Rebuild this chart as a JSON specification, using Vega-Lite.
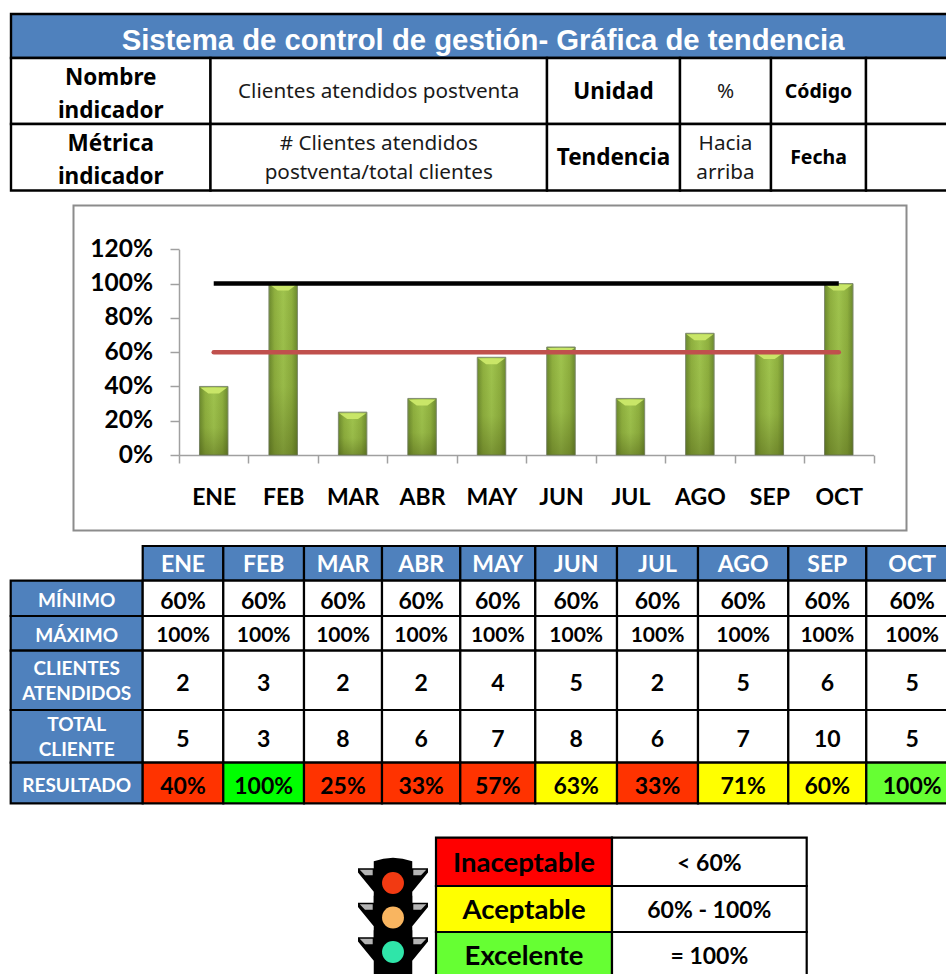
{
"$schema":"https://vega.github.io/schema/vega-lite/v6.json",
"padding":0,
"spacing":0,
"bounds":"flush",
"resolve":{"scale":{"color":"independent"}},
"config":{"view":{"stroke":null},"axis":{"grid":false,"title":null}},
"datasets":{
"cabecera":[
{"col":0,"fin":6,"row":0,"text":"","tipo":"azul"},
{"col":0,"fin":1,"row":1,"text":"Nombre\nindicador","tipo":"blanco"},
{"col":1,"fin":2,"row":1,"text":"Clientes atendidos postventa","tipo":"blanco"},
{"col":2,"fin":3,"row":1,"text":"Unidad","tipo":"blanco"},
{"col":3,"fin":4,"row":1,"text":"%","tipo":"blanco"},
{"col":4,"fin":5,"row":1,"text":"Código","tipo":"blanco"},
{"col":5,"fin":6,"row":1,"text":"","tipo":"blanco"},
{"col":0,"fin":1,"row":2,"text":"Métrica\nindicador","tipo":"blanco"},
{"col":1,"fin":2,"row":2,"text":"# Clientes atendidos\npostventa/total clientes","tipo":"blanco"},
{"col":2,"fin":3,"row":2,"text":"Tendencia","tipo":"blanco"},
{"col":3,"fin":4,"row":2,"text":"Hacia\narriba","tipo":"blanco"},
{"col":4,"fin":5,"row":2,"text":"Fecha","tipo":"blanco"},
{"col":5,"fin":6,"row":2,"text":"","tipo":"blanco"}
],
"meses":[
{"mes":"ENE","resultado":0.40,"minimo":0.6,"maximo":1},
{"mes":"FEB","resultado":1,"minimo":0.6,"maximo":1},
{"mes":"MAR","resultado":0.25,"minimo":0.6,"maximo":1},
{"mes":"ABR","resultado":0.33,"minimo":0.6,"maximo":1},
{"mes":"MAY","resultado":0.57,"minimo":0.6,"maximo":1},
{"mes":"JUN","resultado":0.63,"minimo":0.6,"maximo":1},
{"mes":"JUL","resultado":0.33,"minimo":0.6,"maximo":1},
{"mes":"AGO","resultado":0.71,"minimo":0.6,"maximo":1},
{"mes":"SEP","resultado":0.60,"minimo":0.6,"maximo":1},
{"mes":"OCT","resultado":1,"minimo":0.6,"maximo":1}
],
"tabla":[
{"col":1,"row":0,"text":"ENE","tipo":"azul"},{"col":2,"row":0,"text":"FEB","tipo":"azul"},{"col":3,"row":0,"text":"MAR","tipo":"azul"},{"col":4,"row":0,"text":"ABR","tipo":"azul"},{"col":5,"row":0,"text":"MAY","tipo":"azul"},{"col":6,"row":0,"text":"JUN","tipo":"azul"},{"col":7,"row":0,"text":"JUL","tipo":"azul"},{"col":8,"row":0,"text":"AGO","tipo":"azul"},{"col":9,"row":0,"text":"SEP","tipo":"azul"},{"col":10,"row":0,"text":"OCT","tipo":"azul"},
{"col":0,"row":1,"text":"MÍNIMO","tipo":"azul"},{"col":1,"row":1,"text":"60%","tipo":"blanco"},{"col":2,"row":1,"text":"60%","tipo":"blanco"},{"col":3,"row":1,"text":"60%","tipo":"blanco"},{"col":4,"row":1,"text":"60%","tipo":"blanco"},{"col":5,"row":1,"text":"60%","tipo":"blanco"},{"col":6,"row":1,"text":"60%","tipo":"blanco"},{"col":7,"row":1,"text":"60%","tipo":"blanco"},{"col":8,"row":1,"text":"60%","tipo":"blanco"},{"col":9,"row":1,"text":"60%","tipo":"blanco"},{"col":10,"row":1,"text":"60%","tipo":"blanco"},
{"col":0,"row":2,"text":"MÁXIMO","tipo":"azul"},{"col":1,"row":2,"text":"100%","tipo":"blanco"},{"col":2,"row":2,"text":"100%","tipo":"blanco"},{"col":3,"row":2,"text":"100%","tipo":"blanco"},{"col":4,"row":2,"text":"100%","tipo":"blanco"},{"col":5,"row":2,"text":"100%","tipo":"blanco"},{"col":6,"row":2,"text":"100%","tipo":"blanco"},{"col":7,"row":2,"text":"100%","tipo":"blanco"},{"col":8,"row":2,"text":"100%","tipo":"blanco"},{"col":9,"row":2,"text":"100%","tipo":"blanco"},{"col":10,"row":2,"text":"100%","tipo":"blanco"},
{"col":0,"row":3,"text":"CLIENTES\nATENDIDOS","tipo":"azul"},{"col":1,"row":3,"text":"2","tipo":"blanco"},{"col":2,"row":3,"text":"3","tipo":"blanco"},{"col":3,"row":3,"text":"2","tipo":"blanco"},{"col":4,"row":3,"text":"2","tipo":"blanco"},{"col":5,"row":3,"text":"4","tipo":"blanco"},{"col":6,"row":3,"text":"5","tipo":"blanco"},{"col":7,"row":3,"text":"2","tipo":"blanco"},{"col":8,"row":3,"text":"5","tipo":"blanco"},{"col":9,"row":3,"text":"6","tipo":"blanco"},{"col":10,"row":3,"text":"5","tipo":"blanco"},
{"col":0,"row":4,"text":"TOTAL\nCLIENTE","tipo":"azul"},{"col":1,"row":4,"text":"5","tipo":"blanco"},{"col":2,"row":4,"text":"3","tipo":"blanco"},{"col":3,"row":4,"text":"8","tipo":"blanco"},{"col":4,"row":4,"text":"6","tipo":"blanco"},{"col":5,"row":4,"text":"7","tipo":"blanco"},{"col":6,"row":4,"text":"8","tipo":"blanco"},{"col":7,"row":4,"text":"6","tipo":"blanco"},{"col":8,"row":4,"text":"7","tipo":"blanco"},{"col":9,"row":4,"text":"10","tipo":"blanco"},{"col":10,"row":4,"text":"5","tipo":"blanco"},
{"col":0,"row":5,"text":"RESULTADO","tipo":"azul"},{"col":1,"row":5,"text":"40%","tipo":"bajo"},{"col":2,"row":5,"text":"100%","tipo":"alto"},{"col":3,"row":5,"text":"25%","tipo":"bajo"},{"col":4,"row":5,"text":"33%","tipo":"bajo"},{"col":5,"row":5,"text":"57%","tipo":"bajo"},{"col":6,"row":5,"text":"63%","tipo":"medio"},{"col":7,"row":5,"text":"33%","tipo":"bajo"},{"col":8,"row":5,"text":"71%","tipo":"medio"},{"col":9,"row":5,"text":"60%","tipo":"medio"},{"col":10,"row":5,"text":"100%","tipo":"alto2"}
],
"leyenda":[
{"col":0,"row":0,"text":"Inaceptable","tipo":"rojo"},{"col":1,"row":0,"text":"< 60%","tipo":"blanco"},
{"col":0,"row":1,"text":"Aceptable","tipo":"amarillo"},{"col":1,"row":1,"text":"60% - 100%","tipo":"blanco"},
{"col":0,"row":2,"text":"Excelente","tipo":"verde"},{"col":1,"row":2,"text":"= 100%","tipo":"blanco"}
],
"luces":[{"luz":"roja"},{"luz":"ambar"},{"luz":"verde"}]
},
"vconcat":[
{
"width":946,"height":192,
"data":{"name":"cabecera"},
"transform":[{"calculate":"datum.col+0.5","as":"cx"},{"calculate":"datum.row+1","as":"rowFin"},{"calculate":"datum.row+0.5","as":"cy"}],
"encoding":{
"x":{"field":"col","type":"quantitative","axis":null,"scale":{"domain":[0,1,2,3,4,5,6],"range":[11,210.5,547,680,771,866,960],"nice":false,"zero":false}},
"y":{"field":"row","type":"quantitative","axis":null,"scale":{"domain":[0,1,2,3],"range":[14,58,124,190.5],"nice":false,"zero":false}}
},
"layer":[
{"mark":{"type":"rect","stroke":"#000000","strokeWidth":2.4,"clip":true},
 "encoding":{"x2":{"field":"fin"},"y2":{"field":"rowFin"},
  "color":{"field":"tipo","type":"nominal","legend":null,"scale":{"domain":["azul","blanco"],"range":["#4F81BD","#FFFFFF"]}}}},
{"transform":[{"filter":"datum.row==0"}],
 "mark":{"type":"text","font":"Liberation Sans","fontWeight":"bold","fontSize":29.3,"color":"#FFFFFF","baseline":"middle","dy":5},
 "encoding":{"x":{"datum":1.81},"y":{"datum":0.5},"text":{"value":"Sistema de control de gestión- Gráfica de tendencia"}}},
{"transform":[{"filter":"datum.col==0"},{"filter":"datum.row>0"}],
 "mark":{"type":"text","font":"Noto Sans","fontWeight":"bold","fontSize":22.5,"color":"#000000","baseline":"middle","lineBreak":"\n","lineHeight":33,"dy":-13.5},
 "encoding":{"x":{"field":"cx","type":"quantitative"},"y":{"field":"cy","type":"quantitative"},"text":{"field":"text"}}},
{"transform":[{"filter":"datum.col==2"},{"filter":"datum.row>0"}],
 "mark":{"type":"text","font":"Noto Sans","fontWeight":"bold","fontSize":22.5,"color":"#000000","baseline":"middle","dy":1},
 "encoding":{"x":{"field":"cx","type":"quantitative"},"y":{"field":"cy","type":"quantitative"},"text":{"field":"text"}}},
{"transform":[{"filter":"datum.col==4"},{"filter":"datum.row>0"}],
 "mark":{"type":"text","font":"Noto Sans","fontWeight":"bold","fontSize":19.5,"color":"#000000","baseline":"middle","dy":1},
 "encoding":{"x":{"field":"cx","type":"quantitative"},"y":{"field":"cy","type":"quantitative"},"text":{"field":"text"}}},
{"transform":[{"filter":"(datum.col==1||datum.col==3)&&datum.row==1"}],
 "mark":{"type":"text","font":"Noto Sans","fontSize":20.7,"color":"#1a1a1a","baseline":"middle","dy":1},
 "encoding":{"x":{"field":"cx","type":"quantitative"},"y":{"field":"cy","type":"quantitative"},"text":{"field":"text"}}},
{"transform":[{"filter":"(datum.col==1||datum.col==3)&&datum.row==2"}],
 "mark":{"type":"text","font":"Noto Sans","fontSize":20.7,"color":"#1a1a1a","baseline":"middle","lineBreak":"\n","lineHeight":29,"dy":-13},
 "encoding":{"x":{"field":"cx","type":"quantitative"},"y":{"field":"cy","type":"quantitative"},"text":{"field":"text"}}}
]
},
{
"width":946,"height":348,
"resolve":{"scale":{"x":"independent","y":"independent"},"axis":{"x":"independent","y":"independent"}},
"layer":[
{"data":{"values":[{"marco":"grafica"}]},
 "mark":{"type":"rect","fill":null,"stroke":"#8C8C8C","strokeWidth":2},
 "encoding":{
  "x":{"datum":0,"type":"quantitative","axis":null,"scale":{"domain":[0,1],"range":[73.5,906.5]}},
  "x2":{"datum":1},
  "y":{"datum":0,"type":"quantitative","axis":null,"scale":{"domain":[0,1],"range":[338.5,13.5]}},
  "y2":{"datum":1}}},
{"data":{"name":"meses"},
 "encoding":{
  "x":{"field":"mes","type":"nominal","sort":null,"title":null,
   "scale":{"type":"band","range":[179,873.5],"paddingInner":0,"paddingOuter":0},
   "axis":{"offset":-85,"labelAngle":0,"labelFont":"Lato","labelFontWeight":"bold","labelFontSize":23,"labelColor":"#000000","labelPadding":23,"tickBand":"extent","tickSize":8,"tickColor":"#A0A0A0","tickWidth":1.5,"domainColor":"#A0A0A0","domainWidth":1.5}}
 },
 "layer":[
  {"mark":{"type":"bar","width":28.5,"stroke":"#808C70","strokeWidth":1,"color":{"gradient":"linear","x1":0,"x2":1,"y1":0,"y2":0,"stops":[{"offset":0,"color":"#6C8A2E"},{"offset":0.2,"color":"#8FB03F"},{"offset":0.5,"color":"#A0C44E"},{"offset":0.8,"color":"#8FB03F"},{"offset":1,"color":"#6C8A2E"}]}},
   "encoding":{"y":{"field":"resultado","type":"quantitative","title":null,
    "scale":{"domain":[0,1.2],"range":[263,57.3],"nice":false},
    "axis":{"offset":-179,"values":[0,0.2,0.4,0.6,0.8,1,1.2],"format":".0%","labelFont":"Lato","labelFontWeight":"bold","labelFontSize":24.5,"labelColor":"#000000","labelPadding":17.5,"tickSize":9,"tickColor":"#A0A0A0","tickWidth":1.5,"domainColor":"#A0A0A0","domainWidth":1.5}}}},
  {"mark":{"type":"bar","width":28.5,"color":{"gradient":"linear","x1":0,"x2":0,"y1":0,"y2":1,"stops":[{"offset":0,"color":"rgba(60,70,10,0)"},{"offset":0.6,"color":"rgba(60,70,10,0.08)"},{"offset":1,"color":"rgba(60,70,10,0.38)"}]}},
   "encoding":{"y":{"field":"resultado","type":"quantitative"}}},
  {"mark":{"type":"point","filled":true,"opacity":1,"color":"#C9E668","strokeWidth":0,"shape":"M-1,-0.22 L1,-0.22 L0.4,0.22 L-0.4,0.22 Z","size":729,"yOffset":4},
   "encoding":{"y":{"field":"resultado","type":"quantitative"}}},
  {"mark":{"type":"line","color":"#C0504D","strokeWidth":4.5,"strokeCap":"round"},
   "encoding":{"y":{"field":"minimo","type":"quantitative"}}},
  {"mark":{"type":"line","color":"#000000","strokeWidth":4.5},
   "encoding":{"y":{"field":"maximo","type":"quantitative"}}}
 ]}
]
},
{
"width":946,"height":272,
"data":{"name":"tabla"},
"transform":[{"calculate":"datum.col+0.5","as":"cx"},{"calculate":"datum.col+1","as":"colFin"},{"calculate":"datum.row+1","as":"rowFin"},{"calculate":"datum.row+0.5","as":"cy"}],
"encoding":{
"x":{"field":"col","type":"quantitative","axis":null,"scale":{"domain":[0,1,2,3,4,5,6,7,8,9,10,11],"range":[10.7,142.7,223.3,304,382,460.3,535.3,617,698,788.3,866.3,958],"nice":false,"zero":false}},
"y":{"field":"row","type":"quantitative","axis":null,"scale":{"domain":[0,1,2,3,4,5,6],"range":[6,40.7,76,110.7,170,222.7,263.3],"nice":false,"zero":false}}
},
"layer":[
{"mark":{"type":"rect","stroke":"#000000","strokeWidth":2.2,"clip":true},
 "encoding":{"x2":{"field":"colFin"},"y2":{"field":"rowFin"},
  "color":{"field":"tipo","type":"nominal","legend":null,"scale":{"domain":["azul","blanco","bajo","medio","alto","alto2"],"range":["#4F81BD","#FFFFFF","#FF3300","#FFFF00","#00FF00","#66FF33"]}}}},
{"transform":[{"filter":"datum.row==0"}],
 "mark":{"type":"text","font":"Lato","fontWeight":"bold","fontSize":23,"color":"#FFFFFF","baseline":"middle","dy":2},
 "encoding":{"x":{"field":"cx","type":"quantitative"},"y":{"field":"cy","type":"quantitative"},"text":{"field":"text"}}},
{"transform":[{"filter":"datum.col==0&&(datum.row==3||datum.row==4)"}],
 "mark":{"type":"text","font":"Lato","fontWeight":"bold","fontSize":19,"color":"#FFFFFF","baseline":"middle","lineBreak":"\n","lineHeight":25,"dy":-11},
 "encoding":{"x":{"field":"cx","type":"quantitative"},"y":{"field":"cy","type":"quantitative"},"text":{"field":"text"}}},
{"transform":[{"filter":"datum.col==0&&!(datum.row==3||datum.row==4)"}],
 "mark":{"type":"text","font":"Lato","fontWeight":"bold","fontSize":19,"color":"#FFFFFF","baseline":"middle","dy":2.5},
 "encoding":{"x":{"field":"cx","type":"quantitative"},"y":{"field":"cy","type":"quantitative"},"text":{"field":"text"}}},
{"transform":[{"filter":"datum.col>0&&datum.row>0&&datum.row!=2"}],
 "mark":{"type":"text","font":"Lato","fontWeight":"bold","fontSize":23,"color":"#000000","baseline":"middle","dy":3.5},
 "encoding":{"x":{"field":"cx","type":"quantitative"},"y":{"field":"cy","type":"quantitative"},"text":{"field":"text"}}},
{"transform":[{"filter":"datum.col>0&&datum.row==2"}],
 "mark":{"type":"text","font":"Lato","fontWeight":"bold","fontSize":21,"color":"#000000","baseline":"middle","dy":3},
 "encoding":{"x":{"field":"cx","type":"quantitative"},"y":{"field":"cy","type":"quantitative"},"text":{"field":"text"}}}
]
},
{
"width":946,"height":162,
"resolve":{"scale":{"x":"independent","y":"independent","color":"independent"},"axis":{"x":"independent","y":"independent"}},
"layer":[
{"data":{"name":"leyenda"},
 "transform":[{"calculate":"datum.col+0.5","as":"cx"},{"calculate":"datum.col+1","as":"colFin"},{"calculate":"datum.row+1","as":"rowFin"},{"calculate":"datum.row+0.5","as":"cy"}],
 "encoding":{
  "x":{"field":"col","type":"quantitative","axis":null,"scale":{"domain":[0,1,2],"range":[436,612,806.7],"nice":false,"zero":false}},
  "y":{"field":"row","type":"quantitative","axis":null,"scale":{"domain":[0,1,2,3],"range":[25.7,74,120,166],"nice":false,"zero":false}}},
 "layer":[
 {"mark":{"type":"rect","stroke":"#000000","strokeWidth":2.2,"clip":true},
  "encoding":{"x2":{"field":"colFin"},"y2":{"field":"rowFin"},
   "color":{"field":"tipo","type":"nominal","legend":null,"scale":{"domain":["rojo","amarillo","verde","blanco"],"range":["#FF0000","#FFFF00","#66FF33","#FFFFFF"]}}}},
 {"transform":[{"filter":"datum.col==0"}],
  "mark":{"type":"text","font":"Lato","fontWeight":"bold","fontSize":27.5,"color":"#000000","baseline":"middle","dy":2},
  "encoding":{"x":{"field":"cx","type":"quantitative"},"y":{"field":"cy","type":"quantitative"},"text":{"field":"text"}}},
 {"transform":[{"filter":"datum.col==1"}],
  "mark":{"type":"text","font":"Lato","fontWeight":"bold","fontSize":23,"color":"#000000","baseline":"middle","dy":2},
  "encoding":{"x":{"field":"cx","type":"quantitative"},"y":{"field":"cy","type":"quantitative"},"text":{"field":"text"}}}
 ]},
{"data":{"name":"luces"},
 "encoding":{
  "x":{"datum":0,"type":"quantitative","axis":null,"scale":{"domain":[0,1],"range":[393,394]}},
  "y":{"field":"luz","type":"nominal","axis":null,"sort":null,"scale":{"type":"point","padding":0,"domain":["roja","ambar","verde"],"range":[71,140]}}},
 "layer":[
 {"mark":{"type":"point","filled":true,"opacity":1,"color":"#000000","strokeWidth":0,"size":4900,"shape":"M-0.55,-0.62 Q0,-0.82 0.55,-0.62 L0.55,-0.42 L1,-0.42 L1,-0.3 L0.55,0.25 L0.55,0.62 L0.5,0.8 L-0.5,0.8 L-0.55,0.62 L-0.55,0.25 L-1,-0.3 L-1,-0.42 L-0.55,-0.42 Z"}},
 {"mark":{"type":"point","filled":true,"opacity":1,"color":"#B4B4B4","strokeWidth":0,"size":4900,"shape":"M-0.95,-0.38 L-0.58,-0.38 L-0.58,-0.22 L-0.8,-0.22 Z M0.95,-0.38 L0.58,-0.38 L0.58,-0.22 L0.8,-0.22 Z"}},
 {"mark":{"type":"point","filled":true,"opacity":1,"strokeWidth":0,"size":480,"shape":"circle"},
  "encoding":{"color":{"field":"luz","type":"nominal","legend":null,"scale":{"domain":["roja","ambar","verde"],"range":["#F23A12","#F9B560","#2FE5A9"]}}}}
 ]}
]
}
]
}
